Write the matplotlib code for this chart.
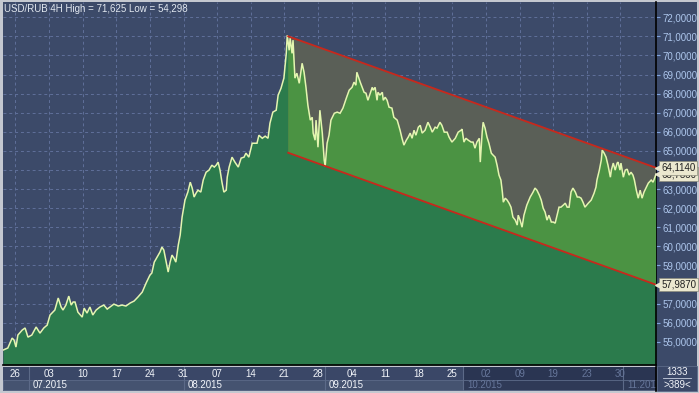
import numpy as np
import matplotlib
matplotlib.use("Agg")
import matplotlib.pyplot as plt
from matplotlib.patches import Polygon, Rectangle
from matplotlib.lines import Line2D

plt.rcParams['font.family'] = ['Liberation Sans', 'DejaVu Sans']

# ---------------- data ----------------
title = "USD/RUB 4H High = 71,625 Low = 54,298"

# time in (compressed) days since Fri 26.06.2015, 7 units per week
days = [-2.6, -1.6, -0.7, -0.3, 0.1, 0.5, 1.4, 2.0, 2.6, 3.4, 4.3, 5.1, 5.9, 6.6, 7.2, 8.2, 8.9, 9.5, 9.9,
        10.5, 11.1, 11.6, 12.0, 12.4, 13.0, 13.9, 14.3, 14.9, 15.5, 16.1, 16.8, 17.6, 18.4, 19.1, 19.7,
        20.5, 21.4, 22.2, 23.0, 23.9, 24.7, 25.5, 26.4, 27.2, 28.0, 28.4, 28.9, 29.5, 30.1, 30.5, 30.9,
        31.4, 31.8, 32.2, 32.6, 33.0, 33.4, 33.9, 34.3, 34.7, 35.3, 35.9, 36.4, 36.8, 37.2, 37.6, 38.0,
        38.6, 39.1, 39.7, 40.3, 40.9, 41.4, 41.8, 42.2, 42.6, 43.0, 43.4, 43.9, 44.1, 44.5, 45.1, 45.7,
        46.4, 47.0, 47.6, 48.0, 48.6, 49.3, 49.7, 50.3, 50.7, 51.4, 52.0, 52.6, 53.0, 53.6, 54.3, 54.7,
        55.3, 55.9, 56.4, 56.6, 57.0, 57.2, 57.6, 57.8, 58.2, 58.6, 59.1, 59.5, 59.7, 60.1, 60.5, 60.9,
        61.4, 61.8, 62.0, 62.4, 62.6, 63.0, 63.4, 63.9, 64.3, 64.5, 64.9, 65.3, 65.7, 66.4, 67.0, 67.6,
        68.2, 68.9, 69.5, 70.1, 70.5, 70.9, 71.1, 71.8, 72.2, 72.6, 73.0, 73.4, 73.9, 74.3, 74.5, 74.9,
        75.3, 75.5, 75.9, 76.4, 76.6, 77.0, 77.4, 77.8, 78.4, 78.8, 79.5, 80.1, 80.5, 80.9, 81.4, 81.8,
        82.2, 82.6, 83.0, 83.4, 83.9, 84.3, 84.7, 85.3, 85.9, 86.4, 86.8, 87.4, 87.8, 88.4, 88.8, 89.3,
        89.9, 90.3, 90.9, 91.6, 92.2, 92.8, 93.0, 93.4, 93.8, 94.3, 94.9, 95.3, 95.7, 96.1, 96.6, 96.8,
        97.2, 97.4, 97.8, 98.2, 98.6, 99.1, 99.5, 99.9, 100.3, 100.7, 101.1, 101.4, 101.6, 102.0, 102.4,
        102.8, 103.2, 103.6, 104.1, 104.5, 104.7, 105.1, 105.5, 105.9, 106.5, 107.2, 107.8, 108.2, 108.6,
        109.1, 109.5, 109.9, 110.3, 110.7, 111.1, 111.6, 112.0, 112.4, 112.8, 113.2, 113.6, 114.1, 114.5,
        114.9, 115.3, 115.7, 116.1, 116.6, 117.0, 117.4, 117.8, 118.2, 118.6, 119.3, 119.9, 120.5, 120.9,
        121.1, 121.6, 122.0, 122.2, 122.6, 123.0, 123.4, 123.9, 124.1, 124.5, 124.9, 125.3, 125.5, 125.9,
        126.1, 126.6, 127.0, 127.4, 127.8, 128.2, 128.6, 128.9, 129.3, 129.7, 130.1, 130.5, 130.9, 131.4,
        131.8, 132.4, 132.8, 133.4]

price = [54.56, 54.67, 55.19, 55.09, 54.72, 55.35, 55.61, 55.72, 55.24, 55.35, 55.77, 55.45, 55.72, 55.87,
         56.40, 56.66, 57.29, 56.82, 56.66, 56.92, 57.39, 56.92, 57.08, 57.08, 56.55, 56.29, 56.76, 56.50,
         56.82, 56.40, 56.66, 56.82, 56.92, 56.71, 56.82, 56.97, 56.87, 56.92, 56.87, 57.03, 57.13, 57.34,
         57.60, 58.07, 58.49, 58.60, 59.17, 59.43, 59.70, 59.96, 59.80, 59.17, 58.65, 59.17, 59.54, 59.38,
         59.17, 60.06, 60.59, 61.53, 62.42, 62.84, 63.36, 63.05, 62.58, 62.78, 62.94, 62.84, 63.47, 63.88,
         63.99, 64.25, 64.15, 64.25, 64.41, 63.99, 63.36, 62.84, 62.94, 63.62, 64.15, 64.67, 64.41, 64.15,
         64.62, 64.67, 64.88, 64.67, 65.40, 65.40, 65.40, 65.82, 65.66, 65.77, 65.66, 66.45, 67.03, 67.13,
         67.92, 68.28, 68.81, 70.11, 71.06, 70.27, 70.90, 70.11, 70.80, 68.81, 69.07, 68.54, 69.22, 69.59,
         69.12, 68.33, 67.39, 66.61, 66.76, 65.93, 65.56, 66.61, 65.19, 67.13, 65.93, 64.51, 64.20, 65.40,
         65.82, 66.61, 66.97, 67.03, 66.97, 67.24, 67.76, 68.18, 68.33, 68.60, 68.44, 69.12, 68.60, 68.33,
         68.07, 68.02, 67.65, 68.02, 68.33, 68.18, 68.33, 67.65, 68.07, 67.92, 68.07, 67.65, 67.81, 67.65,
         67.29, 67.24, 66.76, 66.61, 66.08, 65.66, 65.30, 65.56, 65.72, 65.93, 65.66, 66.08, 65.82, 66.24,
         66.34, 65.93, 66.08, 66.50, 66.24, 65.98, 66.24, 66.19, 66.50, 66.34, 65.98, 65.98, 65.72, 65.46,
         65.66, 65.98, 66.08, 66.14, 65.46, 65.66, 65.56, 65.46, 65.46, 65.14, 65.46, 65.66, 64.41, 65.98,
         66.50, 66.19, 65.72, 65.40, 64.88, 64.77, 64.67, 64.25, 63.73, 63.47, 62.84, 62.31, 62.52, 62.42,
         62.26, 62.05, 61.53, 61.37, 61.11, 61.63, 61.37, 61.00, 61.63, 62.16, 62.58, 62.84, 63.05, 62.94,
         62.68, 62.42, 62.00, 61.79, 61.37, 61.63, 61.27, 61.27, 61.21, 61.63, 62.05, 62.05, 62.16, 62.26,
         62.05, 62.05, 62.84, 63.05, 62.84, 62.58, 62.58, 62.52, 62.31, 62.05, 62.26, 62.42, 62.78, 63.10,
         63.47, 63.99, 64.51, 65.04, 64.88, 64.67, 64.25, 63.62, 63.99, 64.36, 63.99, 64.36, 64.41, 63.99,
         64.36, 63.62, 63.99, 64.04, 63.73, 63.88, 63.73, 63.47, 62.94, 62.52, 62.94, 62.52, 62.84, 63.10,
         63.31, 63.47, 63.36, 63.78]

# trend channel
chan_days = [56.8, 133.4]
chan_upper = [71.0, 64.114]
chan_lower = [64.9, 57.987]
last_close = 63.783

price_ticks = list(range(55, 73))
tick_days = list(range(0, 127, 7))
tick_labels = ["26", "03", "10", "17", "24", "31", "07", "14", "21", "28", "04", "11",
               "18", "25", "02", "09", "19", "23", "30"]
month_starts = [2.8, 35.1, 64.5, 93.2, 126.6]
month_labels = ["07.2015", "08.2015", "09.2015", "10.2015", "11.2015"]
faded_from = 93.2
counter_top = "1333"
counter_bottom = ">389<"

# ---------------- styling ----------------
W, H = 699, 393
BG = '#3c4a69'
DARK_GREEN = '#2b7b4c'
LIGHT_GREEN = '#4b9343'
GREY = '#5a5f57'
LINE = '#e4f6b0'
RED = '#c8281c'
GRID = '#60709a'
LABEL = '#adc6ec'

XMIN, XMAX = -2.6, 133.4
YMIN, YMAX = 53.78, 72.80

fig = plt.figure(figsize=(W / 100, H / 100), dpi=100)
fig.patch.set_facecolor('#c4c8d0')

# right column background
fig.add_artist(Rectangle((656 / W, 2 / H), 41 / W, 389 / H, transform=fig.transFigure,
                         fc=BG, ec='none', zorder=0))
# counter box background
fig.add_artist(Rectangle((657 / W, 2 / H), 40 / W, 25 / H, transform=fig.transFigure,
                         fc='#3a4767', ec='#5c6a88', lw=0.6, zorder=0.5))

ax = fig.add_axes([3 / W, 1 - 365 / H, 653 / W, 363 / H])
ax.set_facecolor(BG)
ax.set_xlim(XMIN, XMAX)
ax.set_ylim(YMIN, YMAX)

ax.set_yticks(price_ticks)
ax.set_yticklabels([f"{v:.4f}".replace('.', ',') for v in price_ticks])
ax.yaxis.tick_right()
ax.tick_params(axis='y', labelsize=7, labelcolor=LABEL, length=3, width=0.8, color='#7fa2dc', pad=1.5)
ax.set_xticks(tick_days)
ax.tick_params(axis='x', length=0, labelbottom=False)
ax.grid(True, color=GRID, ls=(0, (3, 3)), lw=0.7, zorder=1)
for s in ['left', 'top']:
    ax.spines[s].set_visible(False)
for s in ['right', 'bottom']:
    ax.spines[s].set_color('black')
    ax.spines[s].set_linewidth(1.2)

# main area
ax.fill_between(days, YMIN, price, color=DARK_GREEN, lw=0, zorder=2)

poly = Polygon([(chan_days[0], chan_upper[0]), (chan_days[1], chan_upper[1]),
                (chan_days[1], chan_lower[1]), (chan_days[0], chan_lower[0])],
               closed=True, fc=GREY, ec='none', zorder=3)
ax.add_patch(poly)
inner = ax.fill_between(days, YMIN, price, color=LIGHT_GREEN, lw=0, zorder=4)
inner.set_clip_path(poly)

ax.plot(days, price, color=LINE, lw=1.1, zorder=5, solid_joinstyle='miter')
ax.plot(chan_days, chan_upper, color=RED, lw=1.3, zorder=6)
ax.plot(chan_days, chan_lower, color=RED, lw=1.3, zorder=6)

# value boxes on the price scale
ytr = ax.get_yaxis_transform()
for val in [last_close, chan_upper[1], chan_lower[1]]:
    ax.text(1.008, val, f"{val:.4f}".replace('.', ','), transform=ytr, ha='left', va='center',
            fontsize=7, color='#202020', clip_on=False, zorder=20,
            bbox=dict(boxstyle='square,pad=0.18', fc='#ebe8cf', ec='#8c8c7c', lw=0.5))
    ax.plot([1.003], [val], marker='<', ms=4, color='#ebe8cf', transform=ytr, clip_on=False, zorder=21)

fig.text(4 / W, 1 - 9 / H, title, ha='left', va='center', fontsize=7, color='#e2e8f0')

# bottom time scale
bx = fig.add_axes([3 / W, 2 / H, 653 / W, 24 / H])
bx.set_xlim(XMIN, XMAX)
bx.set_ylim(0, 2)
bx.set_facecolor('#3a4767')
bx.set_xticks([])
bx.set_yticks([])
for s in bx.spines.values():
    s.set_visible(False)
bx.spines['right'].set_visible(True)
bx.spines['right'].set_color('black')
bx.spines['right'].set_linewidth(1.2)

bounds = [XMIN] + month_starts + [XMAX]
for i in range(len(bounds) - 1):
    x0, x1 = bounds[i], bounds[i + 1]
    fc = '#455370' if x0 < faded_from else '#2f3a57'
    bx.add_patch(Rectangle((x0, 0.05), x1 - x0, 0.9, fc=fc, ec='#5c6a88', lw=0.6, zorder=1))
bx.add_patch(Rectangle((faded_from, 0.95), XMAX - faded_from, 1.05, fc='#2a3552', ec='none', zorder=1))
for m in month_starts:
    bx.add_line(Line2D([m, m], [0, 2], color='#5c6a88', lw=0.8, zorder=2))

for d, lab in zip(tick_days, tick_labels):
    col = '#f2f5fa' if d < faded_from else '#66769a'
    bx.text(d, 1.45, lab, ha='center', va='center', fontsize=7, color=col, zorder=3)
for m, lab in zip(month_starts, month_labels):
    col = '#f2f5fa' if m < faded_from else '#66769a'
    bx.text(m + 0.8, 0.48, lab, ha='left', va='center', fontsize=7, color=col, zorder=3, clip_on=True)

# counters bottom right
fig.text(677 / W, 1 - 372 / H, counter_top, ha='center', va='center', fontsize=7, color='#f2f5fa')
fig.add_artist(Line2D([663 / W, 691 / W], [1 - 378 / H, 1 - 378 / H], transform=fig.transFigure,
                      color='#c8d0e0', lw=0.6))
fig.text(677 / W, 1 - 384.5 / H, counter_bottom, ha='center', va='center', fontsize=7, color='#f2f5fa')

fig.savefig('out.png', dpi=100, facecolor=fig.get_facecolor())
